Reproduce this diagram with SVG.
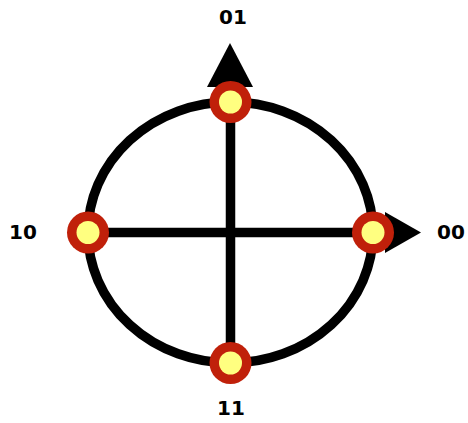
<svg xmlns="http://www.w3.org/2000/svg" width="468" height="423" viewBox="0 0 468 423">
<style>
.ln{stroke:#000;stroke-width:9.5;fill:none}
.lbl{font-family:"DejaVu Sans",sans-serif;font-weight:bold;font-size:20px;fill:#000}
.outer{fill:#c0200a}
.inner{fill:#ffff80}
</style>
<rect width="468" height="423" fill="#fff"/>
<g id="connectors">
<ellipse class="ln" cx="230.5" cy="232.5" rx="142.5" ry="130.5"/>
<line class="ln" x1="230.5" y1="102" x2="230.5" y2="363"/>
<line class="ln" x1="88" y1="232.5" x2="373" y2="232.5"/>
<polygon points="207,87 230,43 253,87" fill="#000"/>
<polygon points="385,212 421,232.5 385,253" fill="#000"/>
</g>
<g id="n01"><circle class="outer" cx="230.5" cy="102" r="21"/><circle class="inner" cx="230.5" cy="102" r="11.5"/><text class="lbl" x="233" y="24" text-anchor="middle">01</text></g>
<g id="n00"><circle class="outer" cx="373" cy="232.5" r="21"/><circle class="inner" cx="373" cy="232.5" r="11.5"/><text class="lbl" x="437" y="239">00</text></g>
<g id="n10"><circle class="outer" cx="88" cy="232.5" r="21"/><circle class="inner" cx="88" cy="232.5" r="11.5"/><text class="lbl" x="9" y="239">10</text></g>
<g id="n11"><circle class="outer" cx="230.5" cy="363" r="21"/><circle class="inner" cx="230.5" cy="363" r="11.5"/><text class="lbl" x="231" y="415" text-anchor="middle">11</text></g>
</svg>
